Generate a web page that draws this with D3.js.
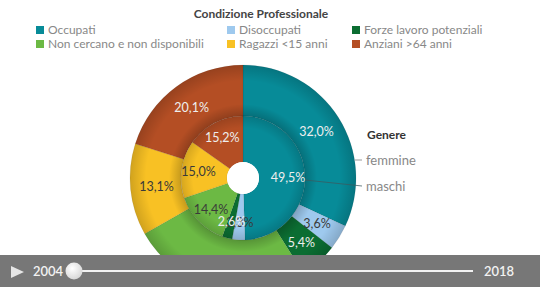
<!DOCTYPE html>
<html>
<head>
<meta charset="utf-8">
<script src="https://cdn.jsdelivr.net/npm/d3@7"></script>
<style>
  html, body { margin: 0; padding: 0; background: #fff; }
  svg { display: block; font-family: Lato, "Open Sans", sans-serif; }
</style>
</head>
<body>
<svg id="chart" width="540" height="287"></svg>
<script>
// Condizione professionale by gender, year 2004
const categories = ["Occupati", "Disoccupati", "Forze lavoro potenziali",
  "Non cercano e non disponibili", "Ragazzi <15 anni", "Anziani >64 anni"];
const colors = ["#078b98", "#9ec9ee", "#0b6d32", "#6cb944", "#f8c124", "#b44e24"];
const labelDark = [false, true, false, true, true, false];
const femmine = [32.0, 3.6, 5.4, 25.8, 13.1, 20.1];
const maschi = [49.5, 3.3, 2.6, 14.4, 15.0, 15.2];
const genders = ["femmine", "maschi"];
const years = ["2004", "2018"];

const svg = d3.select("#chart");
const W = 540, H = 287;
const cx = 243, cy = 178;
const rHole = 16, rInner = 62, rOuter = 113;

// ---- title and legend ----
svg.append("text").attr("x", 261).attr("y", 18)
  .attr("text-anchor", "middle").attr("font-size", 12).attr("font-weight", 700)
  .attr("fill", "#444").text("Condizione Professionale");

const legX = d3.scaleOrdinal().domain([0, 1, 2]).range([36, 227, 352]);
const legY = d3.scaleOrdinal().domain([0, 1]).range([30, 44]);
const leg = svg.append("g").selectAll("g").data(categories).join("g")
  .attr("transform", (d, i) => `translate(${legX(i % 3)},${legY(Math.floor(i / 3))})`);
leg.append("rect").attr("x", 0).attr("y", -4).attr("width", 8).attr("height", 8)
  .attr("fill", (d, i) => colors[i]);
leg.append("text").attr("x", 12).attr("y", 4.3).attr("font-size", 12)
  .attr("fill", "#888").text(d => d);

// ---- rings ----
const defs = svg.append("defs");
function shade(id, stops) {
  const g = defs.append("radialGradient").attr("id", id)
    .attr("gradientUnits", "userSpaceOnUse").attr("cx", cx).attr("cy", cy).attr("r", rOuter);
  stops.forEach(([o, a]) => g.append("stop").attr("offset", o / rOuter)
    .attr("stop-color", "#000").attr("stop-opacity", a));
}
shade("shadeOuter", [[rInner, 0.2], [rInner + 12, 0.0], [rOuter - 16, 0.0], [rOuter, 0.16]]);
shade("shadeInner", [[rHole, 0.0], [rInner - 12, 0.0], [rInner, 0.14]]);

const pie = d3.pie().sort(null).value(d => d);
const rings = [
  { values: femmine, r0: rInner, r1: rOuter, lr: 87, shade: "shadeOuter" },
  { values: maschi, r0: rHole, r1: rInner, lr: 45, shade: "shadeInner" }
];
const plot = svg.append("g").attr("transform", `translate(${cx},${cy})`);

rings.forEach(ring => {
  ring.arc = d3.arc().innerRadius(ring.r0).outerRadius(ring.r1);
  ring.arcs = pie(ring.values);
  plot.append("g").selectAll("path").data(ring.arcs).join("path")
    .attr("d", ring.arc).attr("fill", (d, i) => colors[i])
    .attr("stroke", "rgba(0,0,0,0.12)").attr("stroke-width", 0.6);
});

// radial shading over each ring (gradient in page coordinates)
const over = svg.append("g");
rings.forEach(ring => {
  over.append("circle").attr("cx", cx).attr("cy", cy)
    .attr("r", (ring.r0 + ring.r1) / 2)
    .attr("fill", "none")
    .attr("stroke", `url(#${ring.shade})`)
    .attr("stroke-width", ring.r1 - ring.r0);
});

// value labels
const fmt = v => d3.format(".1f")(v).replace(".", ",") + "%";
rings.forEach(ring => {
  const la = d3.arc().innerRadius(ring.lr).outerRadius(ring.lr);
  over.selectAll(null).data(ring.arcs).join("text")
    .attr("transform", d => { const [x, y] = la.centroid(d); return `translate(${cx + x},${cy + y})`; })
    .attr("text-anchor", "middle").attr("dy", "0.35em")
    .attr("font-size", 12.5)
    .attr("fill", (d, i) => labelDark[i] ? "#3a3a3a" : "#eeeeee")
    .text(d => fmt(d.data));
});

// center hole
svg.append("circle").attr("cx", cx).attr("cy", cy).attr("r", rHole).attr("fill", "#fff");

// ---- gender legend ----
const gl = svg.append("g");
gl.append("text").attr("x", 367).attr("y", 139).attr("font-size", 12)
  .attr("font-weight", 700).attr("fill", "#333").text("Genere");
const gY = [160, 186];
// femmine: outer ring edge; maschi: inner ring edge
const ang0 = Math.asin((gY[0] - cy) / rOuter);
gl.append("line").attr("x1", cx + rOuter * Math.cos(ang0)).attr("y1", gY[0])
  .attr("x2", 362).attr("y2", gY[0]).attr("stroke", "#999").attr("stroke-width", 1);
gl.append("line").attr("x1", cx + rInner).attr("y1", cy + 2)
  .attr("x2", 362).attr("y2", gY[1]).attr("stroke", "rgba(60,90,95,0.75)").attr("stroke-width", 1);
gl.selectAll("text.g").data(genders).join("text").attr("class", "g")
  .attr("x", 366).attr("y", (d, i) => gY[i] + 4.5).attr("font-size", 13)
  .attr("fill", "#888").text(d => d);

// ---- time slider bar ----
const bar = svg.append("g");
bar.append("rect").attr("x", 0).attr("y", 255).attr("width", W).attr("height", H - 255)
  .attr("fill", "#777777");
bar.append("path").attr("d", "M11,266 L24,272 L11,278 Z").attr("fill", "#e6e6e6");
const xs = d3.scaleLinear().domain([+years[0], +years[1]]).range([74, 473]);
bar.append("line").attr("x1", xs.range()[0]).attr("x2", xs.range()[1])
  .attr("y1", 271).attr("y2", 271).attr("stroke", "#f2f2f2").attr("stroke-width", 2);
bar.append("text").attr("x", 33).attr("y", 276).attr("font-size", 13).attr("font-weight", 600)
  .attr("fill", "#f2f2f2").text(years[0]);
bar.append("text").attr("x", 484).attr("y", 276).attr("font-size", 13).attr("font-weight", 600)
  .attr("fill", "#f2f2f2").text(years[1]);
const kg = defs.append("radialGradient").attr("id", "knob").attr("cx", "40%").attr("cy", "35%").attr("r", "65%");
kg.append("stop").attr("offset", 0).attr("stop-color", "#ffffff");
kg.append("stop").attr("offset", 1).attr("stop-color", "#d8d8d8");
bar.append("circle").attr("cx", xs(2004)).attr("cy", 271).attr("r", 8.5).attr("fill", "url(#knob)");
</script>
</body>
</html>
